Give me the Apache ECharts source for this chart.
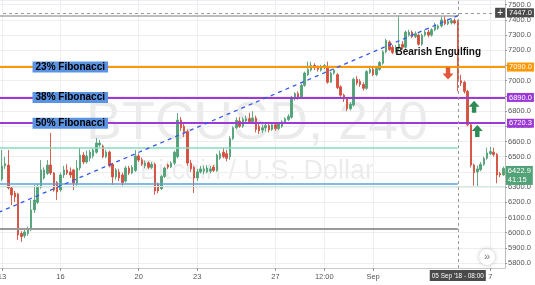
<!DOCTYPE html>
<html><head><meta charset="utf-8">
<script src="https://cdn.jsdelivr.net/npm/echarts@6/dist/echarts.min.js"></script>
<style>html,body{margin:0;padding:0;background:#fff}#c{width:535px;height:285px}</style>
</head><body><div id="c"></div>
<script>
// 4h candles from 2018-08-12 20:00 UTC
const startTime = Date.UTC(2018, 7, 12, 20);
const candleCount = 156;
const categories = [];
for (let i = 0; i < candleCount; i++) {
  categories.push(new Date(startTime + i * 4 * 3600e3).toISOString().slice(0, 16).replace('T', ' '));
}
const xTickLabels = {
  '2018-08-13 00:00': '13', '2018-08-16 00:00': '16', '2018-08-20 00:00': '20',
  '2018-08-23 00:00': '23', '2018-08-27 00:00': '27', '2018-08-29 12:00': '12:00',
  '2018-09-01 00:00': 'Sep', '2018-09-07 00:00': '7'
};
const openP = [6327,6353,6439,6445,6294,6260,6255,5995,5980,5995,6020,6150,6200,6300,6360,6390,6445,6393,6330,6281,6380,6413,6400,6413,6327,6426,6511,6465,6490,6505,6530,6577,6570,6500,6531,6450,6367,6400,6380,6340,6426,6393,6410,6505,6480,6440,6460,6430,6450,6320,6290,6370,6445,6432,6458,6500,6741,6700,6665,6458,6430,6360,6400,6405,6400,6405,6432,6410,6490,6530,6520,6500,6620,6690,6735,6700,6735,6750,6730,6755,6700,6675,6690,6705,6680,6710,6685,6700,6725,6745,6760,6880,6915,6890,6970,7040,7070,7100,7085,7070,7085,7090,6990,7050,7040,6960,6905,6880,6815,6840,7010,6995,6975,6950,7055,7075,7040,7075,7115,7190,7255,7220,7190,7215,7240,7220,7300,7320,7290,7300,7240,7300,7320,7300,7335,7345,7360,7400,7375,7380,7395,7385,7000,6990,6930,6710,6445,6400,6415,6450,6490,6520,6530,6515,6390,6380];
const closeP = [6360,6439,6455,6294,6248,6235,5985,5975,6005,6020,6150,6215,6300,6413,6413,6445,6393,6281,6268,6380,6413,6393,6380,6327,6426,6511,6465,6505,6531,6544,6590,6590,6500,6531,6440,6367,6413,6360,6330,6426,6393,6430,6505,6478,6450,6460,6430,6450,6275,6275,6370,6426,6432,6458,6530,6741,6690,6665,6458,6420,6360,6400,6420,6420,6426,6420,6410,6511,6520,6500,6490,6620,6690,6740,6700,6745,6750,6730,6755,6680,6670,6690,6705,6676,6710,6685,6715,6730,6750,6765,6890,6915,6890,6970,7050,7075,7100,7090,7075,7090,7100,6990,7050,7070,6955,6905,6880,6815,6845,7010,6985,6975,6950,7060,7075,7040,7080,7120,7190,7265,7205,7185,7215,7240,7220,7320,7320,7290,7310,7240,7300,7320,7300,7335,7366,7360,7400,7375,7390,7395,7380,6995,6985,6930,6710,6445,6395,6420,6450,6490,6525,6535,6515,6380,6380,6423];
const lowP = [6307,6340,6420,6285,6182,6202,5952,5940,5965,5980,6010,6130,6190,6290,6350,6380,6380,6270,6215,6270,6360,6380,6360,6281,6310,6410,6450,6455,6470,6490,6520,6565,6490,6490,6430,6314,6350,6340,6310,6330,6380,6385,6400,6465,6440,6425,6420,6420,6250,6260,6280,6360,6420,6425,6445,6490,6670,6630,6440,6400,6262,6340,6390,6385,6390,6390,6400,6400,6480,6490,6470,6480,6610,6680,6690,6690,6720,6720,6720,6660,6650,6655,6665,6660,6670,6670,6675,6690,6715,6735,6750,6870,6875,6880,6960,7030,7060,7070,7060,7060,7075,6980,6985,7040,6945,6895,6860,6800,6805,6830,6970,6960,6935,6940,7045,7030,7030,7065,7105,7180,7195,7175,7180,7200,7205,7210,7290,7280,7280,7230,7230,7290,7285,7290,7325,7335,7350,7365,7365,7370,7370,6930,6965,6915,6700,6430,6310,6305,6405,6440,6480,6510,6500,6325,6365,6375];
const highP = [6413,6544,6500,6544,6300,6275,6262,6010,6030,6040,6215,6315,6320,6478,6430,6478,6656,6400,6340,6395,6440,6450,6430,6420,6478,6557,6530,6540,6545,6560,6623,6610,6580,6545,6540,6460,6425,6420,6395,6440,6440,6445,6544,6520,6495,6475,6470,6465,6460,6330,6380,6435,6455,6470,6540,6787,6760,6720,6680,6480,6440,6420,6440,6440,6445,6440,6445,6520,6540,6560,6545,6635,6700,6760,6760,6760,6770,6790,6800,6770,6715,6710,6720,6715,6720,6720,6725,6740,6760,6780,6900,6925,6930,6980,7060,7125,7125,7115,7100,7105,7110,7125,7060,7080,7050,6970,6915,6890,6860,7020,7030,7010,6990,7070,7090,7085,7095,7130,7200,7275,7265,7235,7235,7432,7260,7330,7335,7330,7325,7310,7310,7335,7335,7345,7380,7370,7425,7425,7405,7410,7410,7400,7040,7000,6940,6720,6455,6440,6465,6500,6560,6565,6560,6525,6400,6435];

const fibLevels = [7090, 6890, 6720.3];
const fibNames = ['23% Fibonacci', '38% Fibonacci', '50% Fibonacci'];
const fibColors = ['#ff9800', '#9c3ad8', '#9c3ad8'];
const zoneLevels = [6562, 6325, 6024, 7428];
const zoneColors = ['#86dcbd', '#5aa2dc', '#9a9a9a', '#a8a8a8'];
const baseLevel = 6303;
const trendStart = 6134, trendEnd = 7428;
const crossTime = '2018-09-05 08:00', crossPrice = 7447;
const lastPrice = 6422.9, countdown = '41:15';
const patternText = 'Bearish Engulfing';

const UP = '#52a277', DOWN = '#d4503e';
const FONT = "'Liberation Sans', Arial, sans-serif";
const crossIdx = categories.indexOf(crossTime);
const lastIdx = candleCount - 1;

const candles = categories.map((_, i) => [openP[i], closeP[i], lowP[i], highP[i]]);

const markLines = [];
fibLevels.forEach((v, k) => markLines.push({
  yAxis: v,
  lineStyle: { color: fibColors[k], width: 2, type: 'solid' },
  label: { show: true, position: 'end', distance: 2, formatter: v.toFixed(1), backgroundColor: fibColors[k],
    color: '#fff', fontSize: 7.5, fontFamily: FONT, padding: [1, 2, 0, 2] }
}));
zoneLevels.forEach((v, k) => markLines.push([
  { coord: [0, v], lineStyle: { color: zoneColors[k], width: k === 2 ? 2 : 1.5, type: 'solid' }, label: { show: false } },
  { coord: [crossIdx, v] }
]));
markLines.push({ yAxis: baseLevel, lineStyle: { color: '#d4ead8', width: 1, type: 'solid' }, label: { show: false } });
markLines.push([
  { coord: [0, trendStart], lineStyle: { color: '#3358ef', width: 1.3, type: [4, 4] }, label: { show: false } },
  { coord: [crossIdx, trendEnd] }
]);
markLines.push({
  yAxis: crossPrice, lineStyle: { color: '#9a9a9a', width: 1, type: [3, 3] },
  label: { show: true, position: 'end', distance: 2, formatter: crossPrice.toFixed(1), backgroundColor: '#4a4a4a',
    color: '#fff', fontSize: 7.5, fontFamily: FONT, padding: [1, 2, 0, 2] }
});
markLines.push({
  xAxis: crossIdx, lineStyle: { color: '#9a9a9a', width: 1, type: [3, 3] },
  label: { show: true, position: 'start', distance: 2, formatter: "05 Sep '18 - 08:00", backgroundColor: '#4a4a4a',
    color: '#fff', fontSize: 6.4, fontFamily: FONT, padding: [3, 2, 2, 2] }
});

const blank = { color: 'rgba(0,0,0,0)' };
const markPoints = [];
fibLevels.forEach((v, k) => markPoints.push({
  coord: [22, v], symbol: 'circle', symbolSize: 1, itemStyle: blank,
  label: { show: true, position: 'inside', formatter: fibNames[k], backgroundColor: '#5b93e3', color: '#000',
    fontWeight: 'bold', fontSize: 10, fontFamily: FONT, padding: [1, 3, 0, 3] }
}));
markPoints.push({
  coord: [135, 7187], symbol: 'circle', symbolSize: 1, itemStyle: blank,
  label: { show: true, position: 'inside', formatter: patternText, color: '#111', fontWeight: 'bold', fontSize: 10, fontFamily: FONT }
});
const downArrow = 'path://M3,0 L7,0 L7,5 L10,5 L5,10 L0,5 L3,5 Z';
const upArrow = 'path://M5,0 L10,5 L7,5 L7,10 L3,10 L3,5 L0,5 Z';
markPoints.push({ coord: [138, 7048], symbol: downArrow, symbolSize: [11, 12], itemStyle: { color: '#e2553b' }, label: { show: false } });
markPoints.push({ coord: [146, 6829], symbol: upArrow, symbolSize: [11, 12], itemStyle: { color: '#2e8a57' }, label: { show: false } });
markPoints.push({ coord: [147, 6669], symbol: upArrow, symbolSize: [11, 12], itemStyle: { color: '#2e8a57' }, label: { show: false } });
markPoints.push({ coord: [154, crossPrice], symbol: 'rect', symbolSize: [10, 10], itemStyle: { color: '#4a4a4a' },
  label: { show: true, position: 'inside', formatter: '+', color: '#fff', fontSize: 10, fontFamily: FONT } });
markPoints.push({ coord: [lastIdx, lastPrice], symbol: 'circle', symbolSize: 1, itemStyle: blank,
  label: { show: true, position: 'right', distance: 2, offset: [0, 7], formatter: lastPrice.toFixed(1) + '\n' + countdown,
    backgroundColor: UP, color: '#fff', fontSize: 7.5, lineHeight: 9, fontFamily: FONT, padding: [1, 2, 0, 2] } });
markPoints.push({ coord: [150, 5840], symbol: 'circle', symbolSize: 16,
  itemStyle: { color: '#fff', shadowBlur: 4, shadowColor: 'rgba(0,0,0,0.25)' },
  label: { show: true, position: 'inside', formatter: '»', color: '#777', fontSize: 11, fontFamily: FONT } });

const isTick = (i, v) => Object.prototype.hasOwnProperty.call(xTickLabels, v);

const chart = echarts.init(document.getElementById('c'), null, { renderer: 'canvas' });
chart.setOption({
  animation: false,
  backgroundColor: '#fff',
  grid: { left: -3, right: 30, top: 0, bottom: 17, containLabel: false, outerBoundsMode: 'none' },
  graphic: [
    { type: 'text', z: 0, silent: true, x: 257, y: 124,
      style: { text: 'BTCUSD, 240', font: "54px 'Liberation Sans', Arial", fill: 'rgba(0,0,0,0.08)', textAlign: 'center', textVerticalAlign: 'middle' } },
    { type: 'text', z: 0, silent: true, x: 257, y: 172,
      style: { text: 'Bitcoin / U.S. Dollar', font: "27px 'Liberation Sans', Arial", fill: 'rgba(0,0,0,0.08)', textAlign: 'center', textVerticalAlign: 'middle' } }
  ],
  xAxis: {
    type: 'category', data: categories, boundaryGap: true,
    axisLine: { show: true, lineStyle: { color: '#c8c8c8' } },
    axisTick: { show: true, interval: isTick, alignWithLabel: true, length: 3, lineStyle: { color: '#999' } },
    axisLabel: { interval: isTick, formatter: v => xTickLabels[v] || '', color: '#555', fontSize: 7.5, fontFamily: FONT, margin: 5 },
    splitLine: { show: true, interval: isTick, alignWithLabel: true, lineStyle: { color: '#eceef1', width: 1 } }
  },
  yAxis: {
    type: 'value', position: 'right', min: 5768, max: 7531, splitNumber: 17, scale: true,
    axisLine: { show: true, lineStyle: { color: '#bdbdbd' } },
    axisTick: { show: true, length: 2, lineStyle: { color: '#999' } },
    axisLabel: { showMinLabel: false, showMaxLabel: false, margin: 3, color: '#555', fontSize: 7.5, fontFamily: FONT,
      formatter: v => (Math.round(v) % 100 === 0 ? v.toFixed(1) : '') },
    splitLine: { show: true, lineStyle: { color: '#eceef1', width: 1 } }
  },
  series: [{
    type: 'candlestick', data: candles, barWidth: 2, z: 3,
    itemStyle: { color: UP, color0: DOWN, borderColor: UP, borderColor0: DOWN, borderWidth: 0.9 },
    markLine: { silent: true, symbol: ['none', 'none'], animation: false, data: markLines },
    markPoint: { silent: true, animation: false, data: markPoints }
  }]
});
</script>
</body></html>
